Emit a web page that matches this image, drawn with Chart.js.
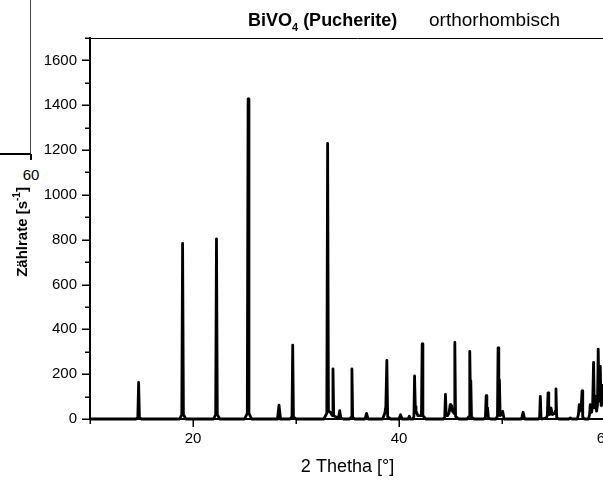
<!DOCTYPE html>
<html>
<head>
<meta charset="utf-8">
<script src="https://cdn.jsdelivr.net/npm/chart.js@4"></script>
<style>
  html, body { margin: 0; padding: 0; background: #fff; }
  body { width: 603px; height: 480px; overflow: hidden; position: relative; font-family: "Liberation Sans", Arial, sans-serif; }
  #plot { position: absolute; left: 0; top: 0; }
  /* corner of the neighbouring panel */
  .nb-v { position: absolute; left: 30px; top: 0; width: 1px; height: 154px; background: #444; }
  .nb-h { position: absolute; left: 0; top: 153px; width: 31px; height: 2px; background: #000; }
  .nb-t { position: absolute; left: 30px; top: 154px; width: 1.5px; height: 6px; background: #000; }
  .nb-l { position: absolute; left: 16px; top: 166px; width: 30px; text-align: center; font-size: 15px; color: #000; }
</style>
</head>
<body>
<div class="nb-v"></div>
<div class="nb-h"></div>
<div class="nb-t"></div>
<div class="nb-l">60</div>
<canvas id="plot" width="640" height="480"></canvas>
<script>
// Diffraktogramm BiVO4 (Pucherite): 2 Theta [°] und Zählrate [1/s]
const twoTheta = [
    10.0, 14.45, 14.64, 14.72, 14.80, 15.0,
    18.7, 18.91, 18.99, 19.07, 19.3,
    22.0, 22.20, 22.28, 22.36, 22.6,
    25.0, 25.27, 25.35, 25.43, 25.7,
    28.2, 28.35, 28.5,
    29.4, 29.61, 29.68, 29.75, 30.0,
    32.7, 32.99, 33.07, 33.15, 33.33, 33.52, 33.59, 33.66, 33.9, 34.12, 34.24, 34.36, 34.6,
    35.2, 35.36, 35.43, 35.50, 35.7,
    36.7, 36.85, 37.0,
    38.4, 38.62, 38.72, 38.82, 38.90, 39.2,
    40.0, 40.15, 40.3,
    40.9, 41.0, 41.1,
    41.35, 41.45, 41.51, 41.58, 41.65, 41.83, 42.18, 42.25, 42.32, 42.6,
    44.3, 44.44, 44.51, 44.58, 44.7, 44.85, 44.97, 45.04, 45.10, 45.2, 45.35, 45.42, 45.49, 45.8,
    46.6, 46.81, 46.87, 46.93, 46.97, 47.04, 47.3,
    48.2, 48.39, 48.46, 48.53, 48.60, 48.68, 48.9,
    49.4, 49.56, 49.62, 49.69, 49.75, 49.82, 49.95, 50.07, 50.2,
    51.9, 52.05, 52.2,
    53.55, 53.65, 53.72, 53.79, 53.9, 54.3, 54.40, 54.47, 54.54, 54.64, 54.76, 54.88, 55.10, 55.17, 55.24, 55.31, 55.5,
    56.5, 56.63, 56.8,
    57.3, 57.42, 57.50, 57.58, 57.68, 57.77, 57.84, 58.0,
    58.4, 58.5, 58.57, 58.70, 58.80, 58.89, 58.97, 59.08, 59.18, 59.27, 59.34, 59.42, 59.54, 59.62, 59.72, 59.80, 59.9, 60.0
];
const counts = [
    0, 0, 6, 163, 6, 0,
    0, 20, 783, 20, 0,
    0, 20, 804, 20, 0,
    0, 25, 1428, 25, 0,
    0, 62, 0,
    0, 10, 330, 10, 0,
    0, 25, 1230, 35, 30, 15, 224, 15, 8, 5, 37, 5, 0,
    0, 8, 223, 8, 0,
    0, 25, 0,
    0, 25, 55, 262, 10, 0,
    0, 19, 0,
    0, 12, 0,
    0, 12, 192, 55, 35, 15, 15, 335, 15, 0,
    0, 8, 110, 15, 15, 25, 64, 40, 60, 35, 25, 342, 12, 0,
    0, 12, 302, 120, 170, 8, 0,
    0, 6, 104, 30, 50, 5, 0,
    0, 12, 317, 100, 175, 15, 20, 34, 0,
    0, 30, 0,
    0, 6, 101, 6, 0, 5, 15, 117, 25, 20, 49, 20, 25, 35, 134, 8, 0,
    0, 5, 0,
    0, 20, 64, 35, 40, 125, 8, 0,
    0, 20, 64, 30, 60, 253, 50, 101, 35, 60, 312, 80, 235, 60, 100, 150, 60, 40
];

const xMin = 10, xMax = 60, xStep = 10, xLabelStep = 20;
const yMin = 0, yMax = 1700, yStep = 100, yLabelStep = 200;

const schrift = '"Liberation Sans", Arial, sans-serif';

const punkte = twoTheta.map((t, i) => ({ x: t, y: counts[i] }));

// Achsenstriche: Hauptstriche lang, Zwischenstriche kurz; Rahmen oben; Titel und y-Beschriftung
const beschriftung = {
    id: 'beschriftung',
    afterDraw(chart) {
        const ctx = chart.ctx;
        const a = chart.chartArea;
        const sx = chart.scales.x;
        const sy = chart.scales.y;
        ctx.save();
        ctx.strokeStyle = '#000';

        ctx.lineWidth = 1;
        ctx.beginPath();
        ctx.moveTo(a.left, a.top + 0.5);
        ctx.lineTo(a.right + 20, a.top + 0.5);
        ctx.stroke();

        ctx.lineWidth = 1.5;
        ctx.beginPath();
        sy.ticks.forEach(t => {
            const py = Math.round(sy.getPixelForValue(t.value)) + 0.25;
            const len = t.value % yLabelStep === 0 ? 8 : 5;
            ctx.moveTo(a.left - len, py);
            ctx.lineTo(a.left, py);
        });
        sx.ticks.forEach(t => {
            const px = Math.round(sx.getPixelForValue(t.value)) + 0.25;
            const len = t.value % xLabelStep === 0 ? 8 : 5;
            ctx.moveTo(px, a.bottom);
            ctx.lineTo(px, a.bottom + len);
        });
        ctx.stroke();

        // Titel
        ctx.fillStyle = '#000';
        ctx.textBaseline = 'alphabetic';
        ctx.textAlign = 'left';
        let x = 248;
        const base = 26;
        ctx.font = 'bold 18px ' + schrift;
        ctx.fillText('BiVO', x, base);
        x += ctx.measureText('BiVO').width;
        ctx.font = 'bold 11px ' + schrift;
        ctx.fillText('4', x, base + 5);
        x += ctx.measureText('4').width;
        ctx.font = 'bold 18px ' + schrift;
        ctx.fillText(' (Pucherite)', x, base);
        ctx.font = '19px ' + schrift;
        ctx.fillText('orthorhombisch', 429, base);

        // y-Achsentitel, gedreht
        ctx.translate(27, 232);
        ctx.rotate(-Math.PI / 2);
        const teil1 = 'Zählrate [s';
        const hoch = '-1';
        const teil3 = ']';
        ctx.font = 'bold 15px ' + schrift;
        const w1 = ctx.measureText(teil1).width;
        const w3 = ctx.measureText(teil3).width;
        ctx.font = 'bold 10px ' + schrift;
        const w2 = ctx.measureText(hoch).width;
        let p = -(w1 + w2 + w3) / 2;
        ctx.font = 'bold 15px ' + schrift;
        ctx.fillText(teil1, p, 0);
        p += w1;
        ctx.font = 'bold 10px ' + schrift;
        ctx.fillText(hoch, p, -7);
        p += w2;
        ctx.font = 'bold 15px ' + schrift;
        ctx.fillText(teil3, p, 0);
        ctx.restore();
    }
};

new Chart(document.getElementById('plot').getContext('2d'), {
    type: 'line',
    data: {
        datasets: [{
            data: punkte,
            borderColor: '#000',
            borderWidth: 2.8,
            borderJoinStyle: 'round',
            pointRadius: 0,
            tension: 0,
            fill: false,
            clip: false
        }]
    },
    options: {
        responsive: false,
        animation: false,
        events: [],
        layout: { padding: { left: 0, top: 38, right: 35, bottom: 0 } },
        plugins: {
            legend: { display: false },
            tooltip: { enabled: false },
            title: { display: false }
        },
        scales: {
            x: {
                type: 'linear',
                min: xMin,
                max: xMax,
                afterFit: s => { s.height = 61; },
                border: { display: true, color: '#000', width: 2 },
                grid: { display: false, drawTicks: false },
                ticks: {
                    stepSize: xStep,
                    autoSkip: false,
                    maxRotation: 0,
                    padding: 11,
                    color: '#000',
                    font: { family: schrift, size: 15 },
                    callback: v => (v % xLabelStep === 0 && v !== xMin) ? v : ''
                },
                title: {
                    display: true,
                    text: '2 Thetha [°]',
                    color: '#000',
                    font: { family: schrift, size: 18 },
                    padding: { top: 0, bottom: 2 }
                }
            },
            y: {
                min: yMin,
                max: yMax,
                afterFit: s => { s.width = 90; },
                border: { display: true, color: '#000', width: 2 },
                grid: { display: false, drawTicks: false },
                ticks: {
                    stepSize: yStep,
                    autoSkip: false,
                    padding: 13,
                    color: '#000',
                    font: { family: schrift, size: 15 },
                    callback: v => v % yLabelStep === 0 ? v : ''
                }
            }
        }
    },
    plugins: [beschriftung]
});
</script>
</body>
</html>
